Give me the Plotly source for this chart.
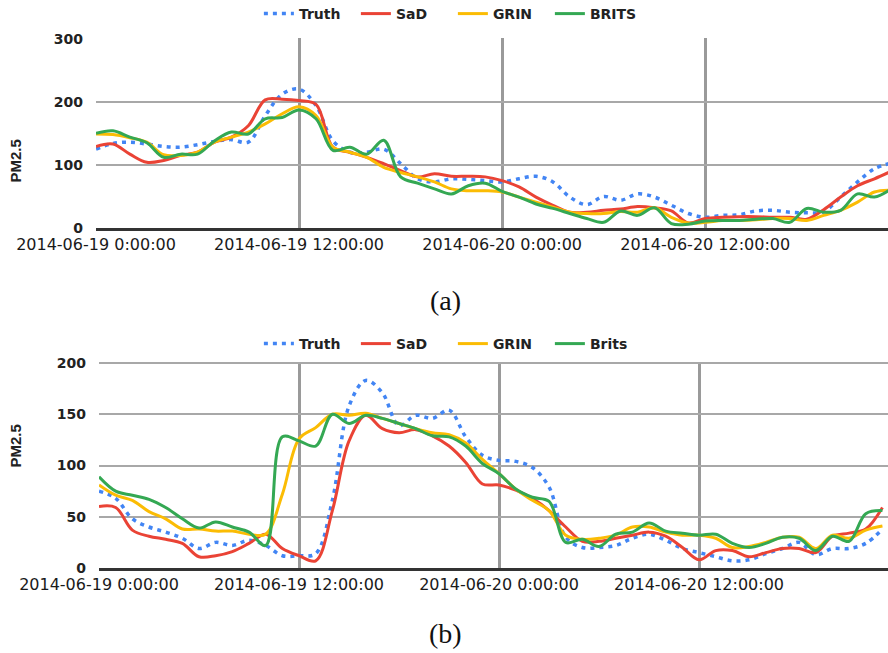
import pandas as pd
import plotly.graph_objects as go

# ---------------- data ----------------
times = pd.date_range("2014-06-19 00:00:00", periods=48, freq="h")
tick_vals = ["2014-06-19 00:00:00", "2014-06-19 12:00:00", "2014-06-20 00:00:00", "2014-06-20 12:00:00"]
tick_text = ["2014-06-19 0:00:00", "2014-06-19 12:00:00", "2014-06-20 0:00:00", "2014-06-20 12:00:00"]

# (a)
truth_a = [125, 134, 136, 133, 129, 128, 132, 137, 140, 136, 178, 212, 220, 194, 138, 120, 120, 125, 102, 78, 73, 78,
           77, 75, 73, 78, 82, 73, 49, 37, 50, 44, 54, 49, 36, 23, 17, 20, 21, 27, 28, 25, 24, 26, 49, 73, 94, 103]
sad_a = [129, 133, 117, 104, 107, 115, 120, 136, 144, 162, 203, 204, 202, 196, 128, 120, 112, 102, 91, 81, 86, 82,
         82, 81, 75, 65, 49, 36, 25, 25, 28, 30, 34, 32, 27, 8, 15, 17, 18, 18, 17, 17, 14, 29, 49, 67, 78, 90]
grin_a = [149, 148, 143, 136, 116, 115, 120, 136, 144, 152, 165, 181, 192, 178, 128, 120, 112, 96, 88, 81, 73, 62,
          59, 59, 57, 49, 41, 33, 25, 23, 23, 26, 25, 32, 17, 8, 9, 12, 12, 13, 15, 15, 12, 20, 28, 41, 57, 60]
brits_a = [150, 154, 144, 135, 112, 117, 117, 138, 152, 149, 173, 175, 187, 173, 123, 128, 117, 139, 81, 71, 62, 54,
           67, 71, 58, 49, 38, 31, 23, 15, 9, 27, 20, 32, 7, 6, 11, 12, 12, 14, 15, 9, 31, 25, 28, 54, 49, 62]

# (b)
truth_b = [75, 68, 48, 40, 35, 29, 19, 25, 22, 27, 22, 12, 12, 14, 66, 158, 183, 171, 139, 149, 146, 154,
           128, 110, 105, 104, 98, 79, 30, 20, 20, 22, 29, 33, 27, 19, 15, 11, 7, 8, 14, 19, 25, 13, 19, 19, 24, 38]
sad_b = [60, 59, 37, 31, 28, 24, 11, 12, 16, 24, 33, 19, 12, 7, 56, 124, 149, 136, 132, 135, 129, 119,
         103, 82, 81, 76, 68, 56, 40, 26, 26, 29, 32, 35, 31, 20, 8, 17, 17, 11, 15, 19, 19, 15, 31, 34, 38, 59]
grin_b = [81, 71, 66, 55, 48, 38, 38, 36, 36, 33, 33, 72, 126, 137, 150, 149, 151, 146, 141, 136, 132, 130,
          122, 106, 92, 77, 66, 56, 32, 28, 29, 32, 40, 40, 35, 32, 32, 29, 20, 21, 25, 30, 30, 19, 32, 29, 37, 41]
brits_b = [89, 75, 71, 67, 59, 48, 39, 45, 40, 35, 22, 128, 124, 119, 150, 141, 149, 146, 141, 136, 129, 128,
           119, 102, 92, 77, 69, 65, 25, 28, 21, 33, 35, 44, 36, 34, 32, 33, 24, 20, 24, 30, 29, 17, 31, 26, 53, 56]

names_a = ["Truth", "SaD", "GRIN", "BRITS"]
names_b = ["Truth", "SaD", "GRIN", "Brits"]
colors = ["#4285F4", "#EA4335", "#FBBC04", "#34A853"]

# ---------------- figure ----------------
fig = go.Figure()

def add_series(vals_list, names, xa, ya, leg):
    for i, (vals, nm) in enumerate(zip(vals_list, names)):
        line = dict(color=colors[i], width=3, shape="spline", smoothing=1)
        if i == 0:
            line.update(dash="4px,5px", width=3.5)
        fig.add_trace(go.Scatter(x=times, y=vals, name=nm, mode="lines", line=line,
                                 xaxis=xa, yaxis=ya, legend=leg))

add_series([truth_a, sad_a, grin_a, brits_a], names_a, "x", "y", "legend")
add_series([truth_b, sad_b, grin_b, brits_b], names_b, "x2", "y2", "legend2")

xcommon = dict(tickmode="array", tickvals=tick_vals, ticktext=tick_text,
               showgrid=True, gridcolor="#9a9a9a", gridwidth=2.5,
               showline=True, linecolor="#333333", linewidth=3,
               ticks="", automargin=False,
               tickfont=dict(family="DejaVu Sans", size=16, color="#1a1a1a"),
               zeroline=False)
ycommon = dict(showgrid=True, gridcolor="#a8a8a8", gridwidth=2, zeroline=False,
               showline=False, ticks="", ticklabelstandoff=12, automargin=False,
               tickfont=dict(family="DejaVu Sans", size=14, color="#222222", weight="bold"))

legend_font = dict(family="DejaVu Sans", size=14, color="#222222", weight="bold")

fig.update_layout(
    width=888, height=653,
    margin=dict(l=0, r=0, t=0, b=0, autoexpand=False),
    paper_bgcolor="white", plot_bgcolor="white",
    xaxis=dict(domain=[96 / 888, 1], anchor="y",
               range=["2014-06-19 00:00:00", "2014-06-20 22:48:00"], **xcommon),
    yaxis=dict(domain=[1 - 228 / 653, 1 - 38 / 653], anchor="x", range=[0, 301],
               tickvals=[0, 100, 200, 300], **ycommon),
    xaxis2=dict(domain=[99 / 888, 1], anchor="y2",
                range=["2014-06-19 00:00:00", "2014-06-20 23:20:00"], **xcommon),
    yaxis2=dict(domain=[1 - 568 / 653, 1 - 362 / 653], anchor="x2", range=[0, 201],
                tickvals=[0, 50, 100, 150, 200], **ycommon),
    legend=dict(orientation="h", x=0.51, xanchor="center", y=1 - 14 / 653, yanchor="middle",
                font=legend_font, entrywidth=52, entrywidthmode="pixels", bgcolor="rgba(0,0,0,0)"),
    legend2=dict(orientation="h", x=0.51, xanchor="center", y=1 - 344 / 653, yanchor="middle",
                 font=legend_font, entrywidth=52, entrywidthmode="pixels", bgcolor="rgba(0,0,0,0)"),
)

ann_font = dict(family="Liberation Sans Narrow, Liberation Sans, Arial", size=15, color="#222222", weight="bold")
fig.add_annotation(text="PM2.5", textangle=-90, xref="paper", yref="paper", xanchor="center",
                   x=15 / 888, y=1 - 138 / 653, showarrow=False, font=ann_font)
fig.add_annotation(text="PM2.5", textangle=-90, xref="paper", yref="paper", xanchor="center",
                   x=15 / 888, y=1 - 470 / 653, showarrow=False, font=ann_font)

cap_font = dict(family="Liberation Serif, DejaVu Serif, serif", size=28, color="#111111")
fig.add_annotation(text="(a)", xref="paper", yref="paper", x=445 / 888, y=1 - 300 / 653,
                   xanchor="center", yanchor="middle", showarrow=False, font=cap_font)
fig.add_annotation(text="(b)", xref="paper", yref="paper", x=445 / 888, y=1 - 633 / 653,
                   xanchor="center", yanchor="middle", showarrow=False, font=cap_font)

fig.write_html("out.html", config={"displayModeBar": False},
               post_script="document.body.style.margin='0px';")
